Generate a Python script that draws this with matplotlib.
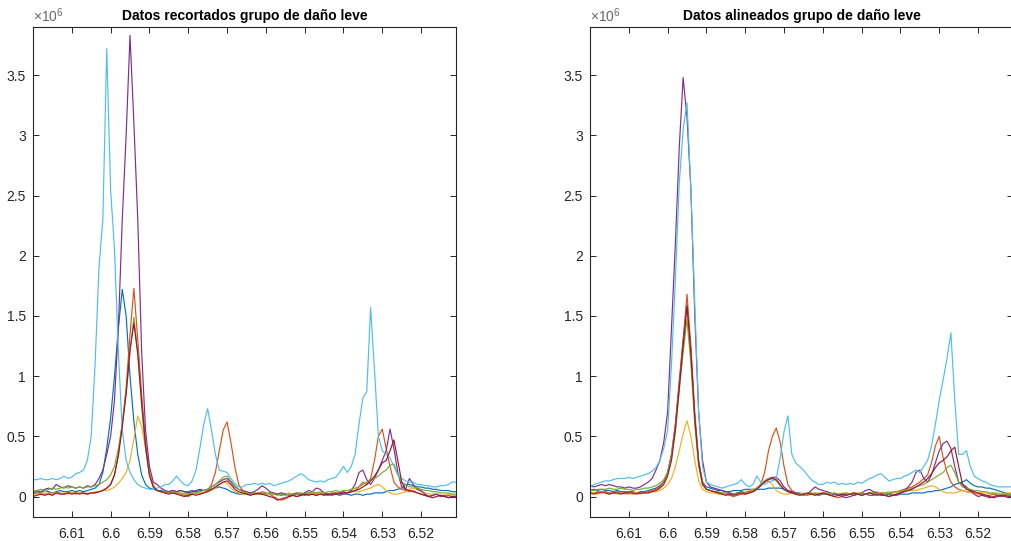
import numpy as np
import matplotlib
matplotlib.use("Agg")
import matplotlib.pyplot as plt
from matplotlib.ticker import FuncFormatter

plt.rcParams['font.family'] = ['Liberation Sans', 'DejaVu Sans']
plt.rcParams['mathtext.fontset'] = 'custom'
plt.rcParams['mathtext.rm'] = 'Liberation Sans'

# chemical shift axis (ppm), 6.620 -> 6.511
ppm = np.linspace(6.620, 6.511, 110)

titles = ["Datos recortados grupo de daño leve", "Datos alineados grupo de daño leve"]
xticks = [6.61, 6.60, 6.59, 6.58, 6.57, 6.56, 6.55, 6.54, 6.53, 6.52]
yticks = [0, 0.5, 1, 1.5, 2, 2.5, 3, 3.5]

# ---------------- Left panel (x 1e6) ----------------
blue_L = [0.03,0.04,0.03,0.05,0.04,0.03,0.04,0.05,0.04,0.04,
          0.05,0.04,0.05,0.04,0.05,0.06,0.07,0.10,0.20,0.40,
          0.65,1.00,1.40,1.72,1.50,1.00,0.62,0.35,0.18,0.10,
          0.07,0.06,0.05,0.05,0.04,0.04,0.05,0.04,0.05,0.04,
          0.04,0.05,0.04,0.05,0.05,0.06,0.06,0.07,0.08,0.07,
          0.06,0.04,0.03,0.02,0.02,0.03,0.02,0.02,0.02,0.02,
          0.02,0.03,0.02,0.02,0.01,0.02,0.02,0.01,0.02,0.02,
          0.01,0.02,0.02,0.01,0.02,0.02,0.01,0.02,0.02,0.01,
          0.02,0.02,0.01,0.02,0.02,0.01,0.02,0.02,0.03,0.03,
          0.03,0.04,0.05,0.05,0.06,0.07,0.10,0.10,0.09,0.08,
          0.08,0.07,0.07,0.06,0.06,0.05,0.05,0.05,0.04,0.04]
orange_L = [0.02,0.03,0.02,0.02,0.03,0.02,0.03,0.03,0.02,0.03,
            0.03,0.02,0.03,0.03,0.02,0.03,0.03,0.04,0.05,0.07,
            0.10,0.18,0.35,0.60,0.90,1.35,1.73,1.30,0.85,0.45,
            0.18,0.08,0.05,0.04,0.03,0.04,0.03,0.03,0.02,0.01,
            0.00,0.02,0.03,0.02,0.03,0.05,0.10,0.20,0.38,0.55,
            0.62,0.45,0.25,0.10,0.05,0.03,0.02,0.03,0.02,0.04,
            0.03,0.02,0.00,-0.02,-0.03,-0.02,0.00,0.01,0.00,0.01,
            0.02,0.03,0.02,0.03,0.02,0.03,0.02,0.03,0.02,0.03,
            0.02,0.03,0.04,0.05,0.08,0.12,0.10,0.15,0.30,0.50,
            0.56,0.40,0.25,0.12,0.08,0.06,0.05,0.04,0.05,0.03,
            0.02,0.01,0.00,0.01,0.02,0.01,0.00,0.01,0.00,0.00]
yellow_L = [0.02,0.02,0.03,0.03,0.02,0.03,0.03,0.02,0.03,0.02,
            0.03,0.03,0.03,0.02,0.03,0.03,0.04,0.04,0.05,0.05,
            0.06,0.08,0.11,0.15,0.20,0.30,0.48,0.67,0.58,0.40,
            0.20,0.10,0.05,0.04,0.03,0.03,0.03,0.02,0.02,0.03,
            0.02,0.03,0.02,0.03,0.03,0.04,0.05,0.07,0.10,0.12,
            0.11,0.07,0.04,0.03,0.02,0.02,0.03,0.02,0.03,0.02,
            0.02,0.03,0.02,0.02,0.03,0.02,0.03,0.02,0.03,0.03,
            0.02,0.03,0.03,0.02,0.03,0.03,0.02,0.03,0.03,0.03,
            0.03,0.03,0.04,0.04,0.04,0.05,0.06,0.07,0.09,0.10,
            0.08,0.05,0.03,0.02,0.02,0.03,0.04,0.06,0.07,0.06,
            0.04,0.03,0.02,0.02,0.02,0.01,0.01,0.02,0.01,0.01]
purple_L = [0.04,0.05,0.04,0.06,0.07,0.06,0.10,0.08,0.07,0.09,
            0.08,0.07,0.08,0.07,0.09,0.08,0.10,0.15,0.22,0.35,
            0.50,0.80,1.40,2.30,3.00,3.83,3.10,2.30,1.20,0.55,
            0.25,0.12,0.10,0.07,0.05,0.04,0.05,0.04,0.05,0.04,
            0.03,0.04,0.05,0.06,0.05,0.06,0.08,0.10,0.12,0.14,
            0.15,0.12,0.08,0.06,0.05,0.04,0.03,0.04,0.06,0.09,
            0.07,0.04,0.03,0.02,0.03,0.02,0.01,0.02,0.03,0.02,
            0.03,0.05,0.04,0.07,0.06,0.03,0.02,0.01,0.02,0.03,
            0.04,0.03,0.05,0.10,0.20,0.22,0.14,0.10,0.15,0.22,
            0.30,0.38,0.56,0.40,0.20,0.08,0.06,0.15,0.10,0.06,
            0.05,0.02,0.00,0.01,0.02,0.00,0.01,-0.01,0.00,0.00]
green_L = [0.04,0.05,0.06,0.05,0.06,0.07,0.06,0.07,0.08,0.07,
           0.08,0.07,0.08,0.07,0.08,0.08,0.09,0.10,0.12,0.14,
           0.18,0.25,0.40,0.60,0.85,1.20,1.49,1.20,0.75,0.40,
           0.18,0.08,0.05,0.04,0.04,0.03,0.04,0.03,0.03,0.02,
           0.02,0.03,0.03,0.04,0.05,0.06,0.08,0.10,0.13,0.16,
           0.17,0.13,0.09,0.06,0.04,0.03,0.02,0.03,0.02,0.03,
           0.02,0.03,0.02,0.01,0.02,0.01,0.02,0.01,0.02,0.03,
           0.02,0.03,0.04,0.03,0.04,0.03,0.04,0.04,0.05,0.04,
           0.05,0.05,0.06,0.07,0.08,0.10,0.12,0.14,0.15,0.17,
           0.20,0.22,0.26,0.27,0.18,0.12,0.10,0.08,0.08,0.07,
           0.06,0.05,0.05,0.04,0.04,0.03,0.03,0.03,0.02,0.02]
cyan_L = [0.14,0.14,0.15,0.14,0.14,0.15,0.14,0.15,0.17,0.15,
          0.16,0.19,0.20,0.22,0.30,0.50,1.10,1.90,2.30,3.72,
          2.55,2.05,1.20,0.55,0.30,0.20,0.14,0.10,0.08,0.07,
          0.06,0.06,0.07,0.08,0.10,0.10,0.13,0.17,0.13,0.10,
          0.09,0.13,0.22,0.40,0.60,0.73,0.55,0.35,0.22,0.21,
          0.20,0.15,0.11,0.08,0.08,0.10,0.10,0.11,0.10,0.11,
          0.10,0.11,0.09,0.10,0.11,0.12,0.13,0.15,0.17,0.19,
          0.17,0.14,0.13,0.12,0.13,0.12,0.14,0.15,0.16,0.20,
          0.25,0.20,0.25,0.35,0.60,0.82,0.87,1.57,1.05,0.50,
          0.38,0.35,0.32,0.25,0.18,0.15,0.13,0.12,0.12,0.10,
          0.10,0.09,0.09,0.08,0.08,0.09,0.09,0.10,0.12,0.12]
darkred_L = [0.00,0.01,0.02,0.01,0.02,0.01,0.03,0.02,0.02,0.03,
             0.02,0.03,0.02,0.03,0.02,0.03,0.03,0.04,0.05,0.07,
             0.10,0.18,0.34,0.58,0.86,1.22,1.44,1.18,0.78,0.42,
             0.18,0.08,0.05,0.04,0.03,0.02,0.03,0.02,0.01,0.00,
             0.01,0.02,0.01,0.02,0.03,0.04,0.06,0.08,0.10,0.12,
             0.13,0.10,0.06,0.04,0.03,0.02,0.01,0.02,0.03,0.02,
             0.01,0.00,-0.01,-0.03,-0.02,-0.01,0.00,0.01,0.00,0.01,
             0.02,0.01,0.02,0.01,0.02,0.01,0.02,0.02,0.03,0.02,
             0.03,0.03,0.04,0.05,0.06,0.08,0.10,0.13,0.17,0.22,
             0.28,0.30,0.38,0.47,0.30,0.12,0.06,0.05,0.04,0.03,
             0.02,0.01,0.00,-0.01,0.00,0.01,0.00,-0.01,0.00,-0.01]

# ---------------- Right panel (x 1e6) ----------------
blue_R = [0.05,0.06,0.05,0.06,0.05,0.05,0.04,0.05,0.04,0.04,
          0.04,0.04,0.03,0.04,0.04,0.05,0.06,0.07,0.09,0.12,
          0.20,0.35,0.60,0.95,1.30,1.60,1.20,0.65,0.28,0.12,
          0.08,0.07,0.06,0.05,0.05,0.04,0.04,0.05,0.05,0.05,
          0.06,0.06,0.06,0.06,0.06,0.06,0.07,0.07,0.07,0.07,
          0.06,0.05,0.04,0.03,0.03,0.02,0.02,0.02,0.02,0.01,
          0.02,0.02,0.01,0.02,0.02,0.01,0.02,0.02,0.01,0.02,
          0.01,0.02,0.01,0.01,0.02,0.01,0.01,0.02,0.01,0.01,
          0.02,0.02,0.02,0.03,0.03,0.03,0.03,0.04,0.04,0.05,
          0.05,0.06,0.07,0.08,0.10,0.11,0.12,0.14,0.11,0.09,
          0.08,0.08,0.07,0.07,0.06,0.05,0.04,0.03,0.02,0.02]
orange_R = [0.03,0.03,0.04,0.03,0.04,0.03,0.03,0.04,0.03,0.03,
            0.03,0.02,0.03,0.03,0.03,0.04,0.05,0.06,0.08,0.12,
            0.20,0.35,0.60,0.95,1.30,1.68,1.25,0.70,0.30,0.12,
            0.06,0.05,0.04,0.03,0.03,0.02,0.01,0.00,0.01,0.02,
            0.02,0.03,0.04,0.06,0.10,0.20,0.38,0.50,0.57,0.45,
            0.25,0.10,0.05,0.03,0.02,0.02,0.01,0.02,0.03,0.02,
            0.03,0.02,0.01,0.00,-0.01,0.00,0.01,0.02,0.01,0.02,
            0.03,0.02,0.03,0.02,0.03,0.02,0.03,0.02,0.03,0.04,
            0.05,0.06,0.07,0.08,0.10,0.12,0.15,0.18,0.28,0.42,
            0.50,0.32,0.20,0.12,0.08,0.06,0.05,0.04,0.04,0.03,
            0.02,0.02,0.01,0.01,0.02,0.01,0.01,0.02,0.01,0.01]
yellow_R = [0.03,0.03,0.02,0.03,0.03,0.02,0.03,0.02,0.03,0.02,
            0.02,0.03,0.03,0.02,0.03,0.03,0.04,0.04,0.05,0.07,
            0.10,0.15,0.25,0.38,0.52,0.63,0.50,0.30,0.13,0.06,
            0.04,0.03,0.03,0.02,0.02,0.03,0.02,0.02,0.03,0.03,
            0.04,0.05,0.06,0.07,0.09,0.12,0.13,0.10,0.05,0.03,
            0.02,0.02,0.03,0.02,0.02,0.03,0.02,0.03,0.03,0.02,
            0.03,0.03,0.02,0.03,0.02,0.03,0.03,0.02,0.03,0.03,
            0.03,0.02,0.03,0.03,0.04,0.03,0.03,0.04,0.03,0.04,
            0.04,0.04,0.05,0.05,0.05,0.06,0.07,0.08,0.09,0.08,
            0.06,0.04,0.03,0.03,0.03,0.04,0.05,0.04,0.03,0.03,
            0.03,0.03,0.03,0.02,0.03,0.03,0.02,0.03,0.03,0.03]
purple_R = [0.09,0.08,0.09,0.10,0.09,0.10,0.09,0.08,0.08,0.07,
            0.08,0.07,0.07,0.08,0.10,0.12,0.15,0.22,0.30,0.45,
            0.70,1.40,2.10,2.90,3.48,3.15,2.55,1.50,0.70,0.30,
            0.12,0.08,0.07,0.06,0.05,0.04,0.03,0.02,0.03,0.04,
            0.03,0.04,0.05,0.07,0.10,0.13,0.15,0.16,0.16,0.13,
            0.08,0.05,0.04,0.03,0.02,0.01,0.02,0.05,0.08,0.06,
            0.05,0.04,0.03,0.02,0.01,0.00,-0.01,0.00,0.01,0.02,
            0.03,0.05,0.06,0.04,0.03,0.02,0.01,0.00,0.01,0.02,
            0.03,0.05,0.08,0.12,0.20,0.22,0.15,0.12,0.18,0.28,
            0.38,0.44,0.46,0.40,0.25,0.12,0.10,0.08,0.05,0.02,
            0.00,0.01,0.00,-0.01,0.00,0.01,0.00,0.01,0.00,0.00]
green_R = [0.05,0.05,0.06,0.06,0.06,0.07,0.06,0.06,0.07,0.06,
           0.06,0.05,0.06,0.06,0.07,0.07,0.08,0.09,0.11,0.14,
           0.20,0.33,0.55,0.88,1.20,1.47,1.10,0.60,0.25,0.10,
           0.06,0.05,0.04,0.04,0.03,0.03,0.02,0.02,0.03,0.03,
           0.03,0.04,0.05,0.07,0.10,0.13,0.15,0.15,0.13,0.09,
           0.06,0.04,0.03,0.02,0.02,0.01,0.02,0.03,0.02,0.03,
           0.02,0.03,0.02,0.03,0.02,0.02,0.03,0.02,0.03,0.02,
           0.03,0.02,0.03,0.03,0.02,0.03,0.03,0.03,0.04,0.04,
           0.04,0.05,0.06,0.07,0.08,0.09,0.10,0.12,0.14,0.16,
           0.18,0.20,0.24,0.26,0.20,0.12,0.08,0.07,0.06,0.05,
           0.05,0.04,0.04,0.03,0.03,0.02,0.02,0.02,0.02,0.02]
cyan_R = [0.08,0.10,0.11,0.12,0.13,0.13,0.14,0.15,0.15,0.15,
          0.16,0.15,0.16,0.17,0.18,0.19,0.21,0.24,0.30,0.40,
          0.55,1.10,1.80,2.60,3.05,3.27,2.55,1.60,0.70,0.25,
          0.12,0.10,0.09,0.08,0.07,0.08,0.09,0.10,0.11,0.14,
          0.10,0.08,0.10,0.17,0.12,0.10,0.12,0.13,0.15,0.32,
          0.54,0.67,0.35,0.28,0.25,0.22,0.18,0.14,0.12,0.10,
          0.10,0.12,0.11,0.12,0.10,0.11,0.10,0.11,0.10,0.12,
          0.11,0.13,0.15,0.16,0.18,0.19,0.16,0.13,0.14,0.15,
          0.15,0.17,0.18,0.20,0.22,0.20,0.25,0.30,0.42,0.60,
          0.80,0.97,1.15,1.36,0.80,0.35,0.35,0.38,0.25,0.17,
          0.15,0.13,0.12,0.10,0.09,0.08,0.08,0.08,0.08,0.08]
darkred_R = [0.03,0.02,0.03,0.04,0.03,0.02,0.03,0.03,0.02,0.03,
             0.03,0.03,0.02,0.03,0.03,0.03,0.04,0.05,0.07,0.10,
             0.17,0.30,0.55,0.90,1.25,1.58,1.20,0.65,0.28,0.10,
             0.06,0.05,0.04,0.03,0.02,0.01,0.02,0.01,0.02,0.03,
             0.02,0.03,0.04,0.06,0.09,0.12,0.14,0.15,0.14,0.10,
             0.06,0.04,0.03,0.02,0.01,0.02,0.03,0.02,0.01,0.02,
             0.03,0.02,0.01,0.00,0.01,0.02,0.01,0.02,0.03,0.02,
             0.01,0.02,0.03,0.02,0.01,0.02,0.01,0.00,0.01,0.02,
             0.03,0.04,0.05,0.06,0.08,0.10,0.12,0.15,0.19,0.24,
             0.28,0.30,0.33,0.38,0.41,0.25,0.10,0.06,0.05,0.04,
             0.03,0.02,0.01,0.00,-0.01,0.00,0.01,0.00,-0.01,0.00]

colors = [(0, 0.447, 0.741), (0.85, 0.325, 0.098), (0.929, 0.694, 0.125),
          (0.494, 0.184, 0.556), (0.466, 0.674, 0.188), (0.301, 0.745, 0.933),
          (0.635, 0.078, 0.184)]

panels = [
    [blue_L, orange_L, yellow_L, purple_L, green_L, cyan_L, darkred_L],
    [blue_R, orange_R, yellow_R, purple_R, green_R, cyan_R, darkred_R],
]

W, H = 1011, 541
fig = plt.figure(figsize=(W / 100, H / 100), dpi=100)
axcol = (0.15, 0.15, 0.15)
positions = [
    [33 / W, 24 / H, 423 / W, 490 / H],
    [590 / W, 24 / H, 423 / W, 490 / H],
]

fmt = FuncFormatter(lambda v, p: "%g" % v)

for pos, series, title in zip(positions, panels, titles):
    ax = fig.add_axes(pos)
    for ys, c in zip(series, colors):
        ax.plot(ppm, ys, color=c, lw=0.85)
    ax.set_xlim(6.62, 6.511)
    ax.set_ylim(-0.17, 3.9)
    ax.set_xticks(xticks)
    ax.set_yticks(yticks)
    ax.xaxis.set_major_formatter(fmt)
    ax.yaxis.set_major_formatter(fmt)
    ax.tick_params(direction='in', length=4, width=0.7, colors=axcol,
                   labelsize=10, top=True, right=True)
    ax.tick_params(axis='x', pad=7)
    ax.tick_params(axis='y', pad=5)
    for s in ax.spines.values():
        s.set_color(axcol)
        s.set_linewidth(0.8)
    ax.set_title(title, fontsize=10, fontweight='bold', pad=5)
    ax.text(0.0, 1.004, r'$\times\mathregular{10^{6}}$', transform=ax.transAxes,
            ha='left', va='bottom', fontsize=10, color=(0.4, 0.4, 0.4))

fig.savefig("out.png", dpi=100)
